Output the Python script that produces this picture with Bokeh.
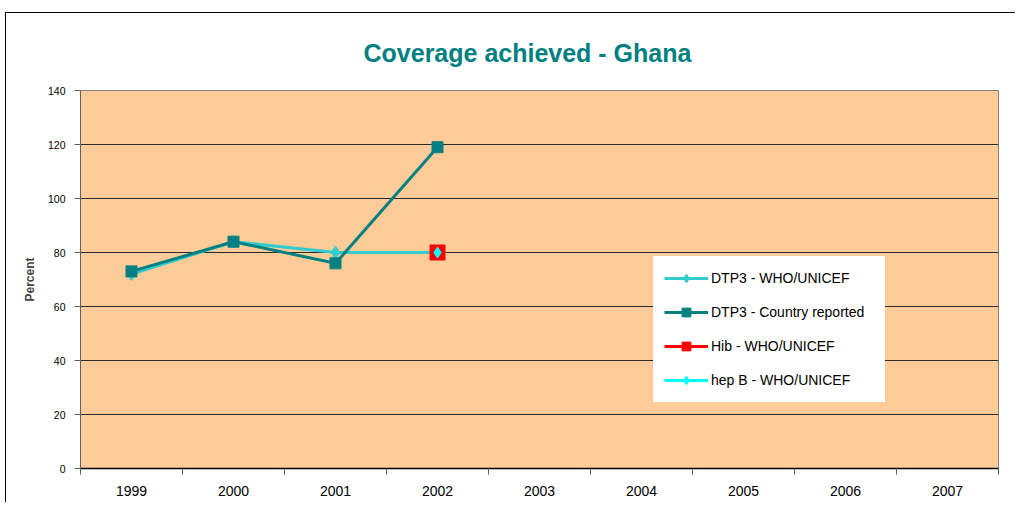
from bokeh.plotting import figure
from bokeh.models import Range1d, FixedTicker, CustomJSTickFormatter, Legend
from bokeh.embed import file_html
from bokeh.resources import INLINE

# ---- data ----
title_text = "Coverage achieved - Ghana"
years = ["1999", "2000", "2001", "2002", "2003", "2004", "2005", "2006", "2007"]
who_years = ["1999", "2000", "2001", "2002"]
dtp3_who = [72, 84, 80, 80]
country_years = ["1999", "2000", "2001", "2002"]
dtp3_country = [73, 84, 76, 119]
hib_years = ["2002"]
hib_who = [80]
hepb_years = ["2002"]
hepb_who = [80]
y_ticks = [0, 20, 40, 60, 80, 100, 120, 140]


def xpos(ys):
    return [years.index(y) + 0.5 for y in ys]


FONT = "Liberation Sans"

p = figure(width=1010, height=490, output_backend="svg", toolbar_location=None,
           x_range=Range1d(0, len(years)), y_range=Range1d(0, 140),
           min_border_left=74, min_border_right=18, min_border_top=77, min_border_bottom=35)
p.styles = {"border-top": "1px solid #000000", "border-left": "1px solid #000000",
            "margin-left": "5px", "margin-top": "12px"}

p.title.text = title_text
p.title.align = "left"
p.title.offset = 283
p.title.text_color = "#008080"
p.title.text_font = FONT
p.title.text_font_size = "25px"
p.title.text_font_style = "bold"
p.title.standoff = 47

p.background_fill_color = "#FFCC99"
p.border_fill_color = "white"
p.outline_line_color = "#808080"
p.outline_line_width = 1

# grid
p.xgrid.visible = False
p.ygrid.ticker = FixedTicker(ticks=y_ticks)
p.ygrid.grid_line_color = "#2b2b2b"
p.ygrid.grid_line_width = 1

# y axis
p.yaxis.ticker = FixedTicker(ticks=y_ticks)
p.yaxis.axis_label = "Percent"
p.yaxis.axis_label_text_font = FONT
p.yaxis.axis_label_text_font_size = "12px"
p.yaxis.axis_label_text_font_style = "bold"
p.yaxis.axis_label_standoff = 8
p.yaxis.major_label_text_font = FONT
p.yaxis.major_label_text_font_size = "10.5px"
p.yaxis.major_label_text_color = "black"
p.yaxis.axis_line_color = "#606060"
p.yaxis.major_tick_line_color = "#606060"
p.yaxis.major_tick_out = 6
p.yaxis.major_tick_in = 0
p.yaxis.minor_tick_line_color = None
p.yaxis.major_label_standoff = 9

# x axis: labels centred in categories, tick marks at boundaries
p.xaxis.ticker = FixedTicker(ticks=[i + 0.5 for i in range(len(years))],
                             minor_ticks=list(range(len(years) + 1)))
p.xaxis.formatter = CustomJSTickFormatter(args=dict(cats=years), code="""
    const i = Math.floor(tick);
    return (i >= 0 && i < cats.length) ? cats[i] : '';
""")
p.xaxis.major_tick_line_color = None
p.xaxis.major_tick_out = 0
p.xaxis.major_tick_in = 0
p.xaxis.minor_tick_line_color = "#606060"
p.xaxis.minor_tick_out = 6
p.xaxis.minor_tick_in = 0
p.xaxis.axis_line_color = "black"
p.xaxis.axis_line_width = 1.5
p.xaxis.major_label_text_font = FONT
p.xaxis.major_label_text_font_size = "14px"
p.xaxis.major_label_text_color = "black"
p.xaxis.major_label_standoff = 11

# series
c_who = "#33CCCC"
c_cty = "#008080"
c_hib = "#FF0000"
c_hepb = "#00FFFF"

r1l = p.line(xpos(who_years), dtp3_who, line_color=c_who, line_width=3)
r1m = p.scatter(xpos(who_years), dtp3_who, marker="diamond", size=13,
                fill_color=c_who, line_color=c_who)
r2l = p.line(xpos(country_years), dtp3_country, line_color=c_cty, line_width=3)
r2m = p.scatter(xpos(country_years), dtp3_country, marker="square", size=11,
                fill_color=c_cty, line_color=c_cty)
r3l = p.line(xpos(hib_years), hib_who, line_color=c_hib, line_width=3)
r3m = p.scatter(xpos(hib_years), hib_who, marker="square", size=15,
                fill_color=c_hib, line_color=c_hib)
r4l = p.line(xpos(hepb_years), hepb_who, line_color=c_hepb, line_width=3)
r4m = p.scatter(xpos(hepb_years), hepb_who, marker="diamond", size=11,
                fill_color=c_hepb, line_color=c_hepb)

legend = Legend(items=[
    ("DTP3 - WHO/UNICEF", [r1l, r1m]),
    ("DTP3 - Country reported", [r2l, r2m]),
    ("Hib - WHO/UNICEF", [r3l, r3m]),
    ("hep B - WHO/UNICEF", [r4l, r4m]),
], location=(573, 66))
legend.background_fill_color = "white"
legend.background_fill_alpha = 1
legend.border_line_color = "white"
legend.border_line_width = 1
legend.padding = 10
legend.spacing = 12
legend.glyph_height = 22
legend.label_height = 22
legend.glyph_width = 44
legend.label_standoff = 3
legend.label_width = 163
legend.label_text_font = FONT
legend.label_text_font_size = "14px"
legend.label_text_color = "black"
legend.margin = 0
p.add_layout(legend, "center")

open("out.html", "w").write(file_html(p, INLINE))
